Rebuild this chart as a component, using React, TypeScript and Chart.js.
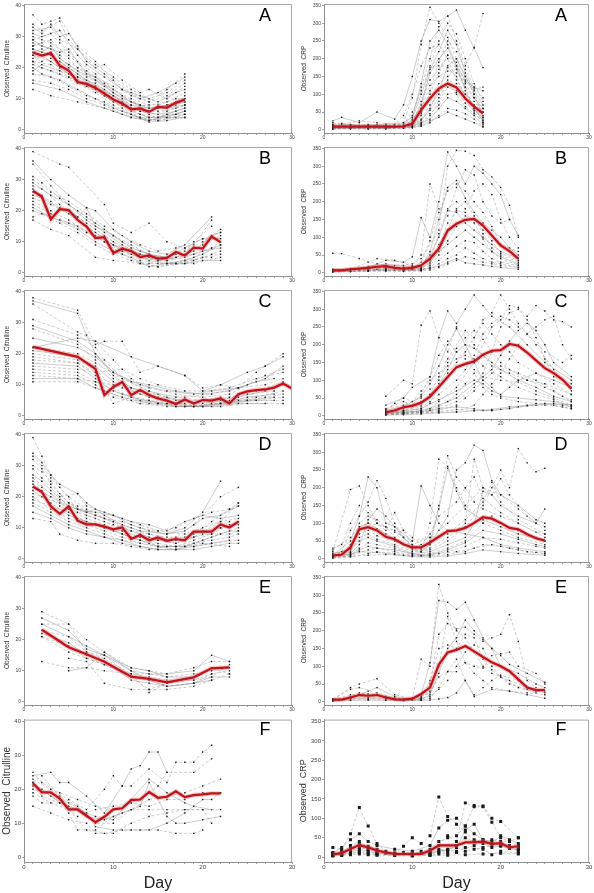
import React, { useEffect, useRef } from 'react';
import { Chart, registerables } from 'chart.js';
Chart.register(...registerables);

// ---------- DATA (flattened [day, value, day, value, ...] per subject) ----------
const citTicks = [0, 10, 20, 30, 40];
const crpTicks = [0, 50, 100, 150, 200, 250, 300, 350];
const dayTicks = [0, 10, 20, 30];

// Panel A – Citrulline
const citA_meanDays = [1,2,3,4,5,6,7,8,9,10,11,12,13,14,15,16,17,18];
const citA_mean = [24.9,23.9,24.7,20.7,19.1,15.4,14.8,13.5,11.7,9.8,8.5,6.6,6.9,5.8,7.4,7.2,8.7,9.8];
const citA_subjects = [
  [1,37, 2,34, 3,35, 4,36, 6,27, 8,22, 10,16, 12,12, 14,9, 16,13, 18,18],
  [1,33, 2,31, 3,34, 4,30, 5,31, 7,22, 9,18, 11,13, 13,10, 15,12, 17,15, 18,17],
  [1,32, 3,33, 4,29, 6,26, 8,20, 9,21, 11,16, 13,12, 14,13, 16,10, 18,14],
  [1,30, 2,29, 3,28, 5,24, 7,19, 9,15, 11,11, 13,8, 15,7, 17,9, 18,11],
  [1,29, 2,27, 4,25, 5,26, 7,18, 8,17, 10,12, 12,9, 14,6, 16,8, 18,10],
  [1,28, 3,26, 4,24, 6,20, 8,16, 10,12, 12,8, 14,5, 16,6, 18,8],
  [1,27, 2,28, 3,25, 5,21, 6,17, 8,15, 10,11, 12,7, 14,6, 15,7, 17,8, 18,9],
  [1,26, 3,24, 5,20, 7,16, 9,13, 11,9, 13,6, 15,5, 17,6, 18,7],
  [1,25, 2,26, 4,22, 6,18, 8,14, 10,10, 12,7, 13,5, 15,4, 17,5, 18,6],
  [1,24, 3,22, 5,18, 7,15, 9,12, 11,8, 13,5, 14,4, 16,5, 18,5],
  [1,23, 2,24, 4,20, 6,16, 8,13, 10,9, 12,6, 14,4, 16,4, 18,4],
  [1,22, 3,21, 5,17, 7,14, 9,11, 11,7, 13,4, 15,3, 17,4, 18,5],
  [1,21, 3,19, 6,15, 8,12, 10,8, 12,5, 14,3, 16,4, 18,6],
  [1,20, 2,18, 4,16, 6,13, 8,10, 10,7, 12,5, 14,2.5, 16,3, 18,4],
  [1,18, 3,17, 5,14, 7,11, 9,9, 11,6, 13,4, 15,3, 18,5],
  [1,16, 3,15, 5,13, 7,10, 9,8, 11,5, 13,4, 15,4, 18,6],
  [1,15, 4,13, 7,9, 10,6, 12,4, 14,3, 16,5, 18,7],
  [1,13, 3,11, 6,9, 9,7, 12,4, 14,3, 17,5, 18,6],
  [1,29, 3,31, 4,28, 5,25, 6,22, 8,18, 10,13, 12,10, 14,8, 16,9, 18,12],
  [1,31, 2,30, 4,32, 6,24, 7,21, 9,17, 11,13, 13,11, 15,9, 17,12, 18,13],
  [1,24, 2,22, 3,23, 5,21, 7,17, 9,14, 11,10, 13,8, 15,8, 17,10, 18,10],
  [1,27, 3,29, 5,23, 6,20, 8,17, 10,14, 12,11, 14,9, 16,11, 18,15],
  [1,19, 2,21, 4,19, 6,17, 8,14, 10,11, 12,8, 14,7, 16,7, 18,8],
  [1,34, 2,32, 4,35, 5,29, 6,26, 8,21, 10,17, 12,13, 14,10, 16,12, 18,16],
  [1,22, 2,20, 4,18, 5,17, 7,14, 9,11, 11,8, 13,6, 15,6, 17,7, 18,8],
  [1,26, 2,25, 3,27, 4,23, 6,19, 8,16, 10,13, 12,9, 14,7, 16,8, 18,9],
];

// Panel A – CRP
const crpA_meanDays = [1,2,3,4,5,6,7,8,9,10,11,12,13,14,15,16,17,18];
const crpA_mean = [9,9,9,9,9,9,9,9,10,17,56,88,116,130,119,88,65,46];
const crpA_subjects = [
  [1,10, 3,8, 5,12, 7,10, 9,20, 10,90, 11,240, 12,345, 13,300, 14,260, 15,200, 16,150, 17,100, 18,60],
  [1,25, 2,35, 4,20, 6,50, 8,30, 9,70, 10,150, 11,250, 12,310, 13,305, 14,320, 15,337, 16,280, 17,230, 18,175],
  [1,5, 3,6, 5,8, 7,6, 9,10, 10,40, 11,120, 12,200, 13,290, 14,320, 15,250, 16,180, 17,232, 18,327],
  [1,8, 2,10, 4,8, 6,9, 8,7, 10,15, 11,60, 12,180, 13,250, 14,300, 15,270, 16,200, 17,130, 18,80],
  [1,12, 3,15, 5,10, 7,12, 9,8, 10,30, 11,100, 12,170, 13,220, 14,280, 15,240, 16,160, 17,110, 18,70],
  [1,3, 3,4, 5,5, 7,4, 9,6, 10,12, 11,40, 12,110, 13,190, 14,250, 15,220, 16,170, 17,120, 18,90],
  [1,15, 2,18, 4,12, 6,14, 8,10, 10,20, 11,80, 12,140, 13,170, 14,210, 15,190, 16,130, 17,90, 18,50],
  [1,6, 3,5, 5,7, 7,5, 9,9, 10,10, 11,25, 12,60, 13,110, 14,180, 15,200, 16,150, 17,100, 18,40],
  [1,9, 3,10, 5,6, 7,8, 9,12, 10,18, 11,50, 12,90, 13,130, 14,150, 15,170, 16,120, 17,60, 18,30],
  [1,4, 3,3, 5,4, 7,3, 9,5, 10,8, 11,15, 12,40, 13,80, 14,120, 15,110, 16,90, 17,70, 18,20],
  [1,7, 3,8, 5,9, 7,7, 9,8, 10,10, 11,20, 12,30, 13,60, 14,90, 15,80, 16,60, 17,40, 18,15],
  [1,20, 2,15, 4,25, 6,20, 8,15, 9,40, 10,100, 11,180, 12,230, 13,240, 14,200, 15,140, 16,100, 17,70, 18,35],
  [1,2, 3,3, 5,2, 7,3, 9,4, 10,5, 11,10, 12,20, 13,40, 14,60, 15,55, 16,45, 17,30, 18,10],
  [1,10, 3,12, 5,14, 7,10, 9,9, 10,22, 11,70, 12,160, 13,200, 14,230, 15,180, 16,110, 17,60, 18,25],
  [1,5, 3,7, 5,6, 7,9, 9,11, 10,14, 11,30, 12,70, 13,100, 14,140, 15,130, 16,100, 17,80, 18,50],
  [1,14, 3,10, 5,15, 7,12, 9,15, 10,50, 11,110, 12,175, 13,180, 14,175, 15,150, 16,90, 17,50, 18,20],
  [1,3, 3,5, 5,3, 7,4, 9,6, 10,7, 11,12, 12,25, 13,35, 14,50, 15,40, 16,30, 17,20, 18,8],
  [1,8, 3,9, 5,11, 7,9, 9,10, 10,16, 11,45, 12,100, 13,160, 14,210, 15,170, 16,120, 17,90, 18,60],
  [1,6, 3,5, 5,8, 7,5, 9,7, 10,9, 11,18, 12,45, 13,70, 14,100, 15,105, 16,75, 17,55, 18,35],
  [1,12, 3,14, 5,10, 7,16, 9,20, 10,35, 11,130, 12,250, 13,280, 14,240, 15,180, 16,140, 17,120, 18,110],
  [1,4, 3,6, 5,5, 7,6, 9,8, 10,12, 11,28, 12,55, 13,90, 14,130, 15,100, 16,65, 17,45, 18,25],
  [1,10, 3,11, 5,12, 7,11, 9,14, 10,26, 11,60, 12,125, 13,150, 14,165, 15,160, 16,135, 17,115, 18,120],
];

// Panel B – Citrulline
const citB_meanDays = [1,2,3,4,5,6,7,8,9,10,11,12,13,14,15,16,17,18,19,20,21,22];
const citB_mean = [26.4,24.5,17.3,20.5,20.2,17,14.9,11.2,11.5,6.4,7.8,7.0,5.1,5.6,4.6,4.8,6.7,5.6,8.1,7.8,11.7,9.9];
const citB_subjects = [
  [1,39, 4,35, 5,34, 9,22, 10,16, 12,13, 14,16, 16,10, 18,8, 20,11, 22,13],
  [1,36, 3,30, 5,25, 7,21, 8,20, 10,14, 12,10, 14,7, 16,6, 18,9, 21,18],
  [1,35, 3,28, 5,22, 7,18, 9,14, 11,10, 13,7, 15,5, 17,6, 19,9, 21,17],
  [1,31, 2,29, 4,24, 6,20, 8,16, 10,12, 12,9, 14,6, 16,5, 18,7, 20,10, 22,14],
  [1,29, 3,25, 5,22, 7,17, 9,13, 11,9, 13,6, 15,4, 17,5, 19,7, 21,12, 22,13],
  [1,28, 2,27, 4,22, 6,18, 8,14, 10,10, 12,7, 14,5, 16,4, 18,6, 20,9, 22,12],
  [1,26, 3,23, 5,20, 7,16, 9,12, 11,8, 13,5, 15,4, 17,3, 19,5, 21,8, 22,10],
  [1,25, 2,24, 4,21, 6,17, 8,13, 10,9, 12,6, 14,4, 16,3, 18,4, 20,6, 22,9],
  [1,24, 3,22, 5,19, 7,15, 9,11, 11,7, 13,4, 15,3, 17,3, 19,4, 21,6, 22,7],
  [1,23, 3,20, 5,17, 7,13, 9,10, 11,6, 13,3, 15,2, 17,3, 19,3, 22,5],
  [1,21, 3,18, 6,14, 8,10, 10,7, 12,5, 14,2, 16,3, 18,3, 20,4, 22,4],
  [1,18, 2,19, 4,16, 6,13, 8,9, 10,6, 12,4, 14,3, 16,3, 18,4, 21,5],
  [1,17, 3,14, 5,12, 8,5, 10,4, 13,3, 15,2, 18,3, 20,5, 22,6],
  [1,27, 2,25, 3,17, 4,21, 5,20, 6,18, 7,21, 8,15, 10,12, 12,8, 14,6, 16,5, 18,8, 20,11, 22,11],
  [1,30, 3,26, 5,23, 7,19, 9,15, 11,12, 13,9, 15,7, 17,8, 19,10, 21,15],
  [1,22, 3,19, 5,16, 7,13, 9,10, 11,7, 13,5, 15,4, 17,5, 19,6, 21,8, 22,9],
  [1,20, 4,17, 6,15, 8,12, 10,9, 12,7, 14,5, 16,4, 18,5, 20,7, 22,8],
];

// Panel B – CRP
const crpB_meanDays = [1,2,3,4,5,6,7,8,9,10,11,12,13,14,15,16,17,18,19,20,21,22];
const crpB_mean = [7,7,10,12,14,17,19,14,12,14,21,40,68,119,138,149,152,133,105,77,61,40];
const crpB_subjects = [
  [1,55, 2,54, 4,40, 6,25, 8,20, 10,25, 11,40, 13,120, 14,300, 15,345, 16,342, 17,330, 18,290, 19,270, 20,240, 21,190, 22,100],
  [1,5, 3,8, 5,15, 7,35, 9,30, 10,45, 11,155, 12,100, 13,200, 14,340, 15,300, 16,250, 17,300, 18,280, 19,250, 20,220, 21,150, 22,105],
  [1,8, 3,10, 5,30, 6,40, 8,35, 10,20, 11,50, 12,250, 13,180, 14,160, 15,240, 16,290, 17,275, 18,200, 19,160, 20,140, 21,150],
  [1,6, 3,8, 5,10, 7,12, 9,15, 10,18, 11,30, 12,90, 13,170, 14,230, 15,250, 16,230, 17,200, 18,170, 19,130, 20,80, 22,60],
  [1,4, 3,5, 5,8, 7,10, 9,8, 10,10, 11,20, 12,50, 13,100, 14,175, 15,170, 16,140, 17,120, 18,100, 19,80, 20,60, 22,40],
  [1,7, 3,9, 5,12, 7,18, 9,10, 11,12, 12,40, 13,80, 14,120, 15,180, 16,200, 17,160, 18,110, 19,70, 20,50, 22,30],
  [1,3, 3,4, 5,5, 7,6, 9,5, 11,8, 12,20, 13,50, 14,90, 15,130, 16,160, 17,150, 18,120, 19,90, 20,55, 22,35],
  [1,10, 3,12, 5,14, 7,15, 9,12, 11,10, 12,30, 13,60, 14,80, 15,100, 16,120, 17,100, 18,80, 19,60, 20,45, 22,25],
  [1,5, 3,6, 5,6, 7,8, 9,6, 11,7, 12,15, 13,35, 14,55, 15,75, 16,90, 17,85, 18,60, 19,40, 20,30, 22,20],
  [1,2, 3,3, 5,4, 7,5, 9,4, 11,5, 12,8, 13,15, 14,25, 15,35, 16,45, 17,40, 18,30, 19,25, 20,20, 22,15],
  [1,8, 3,9, 5,18, 7,25, 9,20, 11,15, 12,60, 13,150, 14,240, 15,260, 16,210, 17,170, 18,140, 19,120, 20,100, 21,70, 22,50],
  [1,6, 4,8, 6,10, 8,8, 10,9, 12,12, 13,25, 14,40, 15,50, 16,70, 17,55, 18,40, 19,30, 20,25, 22,15],
  [1,9, 3,10, 5,12, 7,20, 9,15, 11,18, 12,35, 13,110, 14,180, 15,200, 16,180, 17,230, 18,250, 19,220, 20,150, 21,100, 22,70],
  [1,4, 3,4, 5,6, 7,7, 9,7, 11,8, 13,18, 14,30, 15,40, 16,28, 17,25, 18,22, 19,18, 20,15, 22,10],
  [1,7, 3,8, 5,9, 7,12, 9,10, 11,14, 12,25, 13,70, 14,140, 15,175, 16,170, 17,140, 18,95, 19,60, 20,40, 22,22],
];

// Panel C – Citrulline
const citC_meanDays = [1,6,8,9,10,11,12,13,14,15,16,17,18,19,20,21,22,23,24,25,26,27,28,29,30];
const citC_mean = [22.2,19.0,15.1,6.7,9.3,10.9,6.7,8.3,6.7,5.6,4.9,3.8,5.3,4.0,5.1,4.9,5.6,4.0,7.0,7.9,8.3,8.5,9.1,10.4,8.8];
const citC_subjects = [
  [1,38, 6,34, 8,23, 9,24, 11,24, 13,14, 15,16, 18,13, 20,9, 22,10, 24,9, 26,14, 27,16, 29,20],
  [1,37, 6,33, 7,26, 8,20, 10,14, 13,10, 16,8, 19,7, 21,8, 24,9, 27,12, 29,16],
  [1,36, 6,27, 8,24, 10,18, 12,12, 14,9, 17,7, 20,6, 23,7, 25,10, 27,13, 29,15],
  [1,31, 6,26, 8,22, 9,18, 11,12, 14,8, 17,6, 20,5, 23,6, 26,8, 29,11],
  [1,29, 6,24, 8,20, 10,13, 12,9, 15,6, 18,5, 21,5, 24,6, 27,8, 29,10],
  [1,28, 6,23, 8,18, 10,12, 13,8, 16,6, 19,4, 22,5, 25,7, 28,8],
  [1,22, 6,20, 8,17, 11,12, 14,8, 17,5, 20,4, 23,5, 26,6, 29,8],
  [1,21, 6,19, 8,16, 10,11, 13,7, 16,5, 19,3, 22,4, 25,6, 28,7],
  [1,20, 6,18, 8,15, 10,9, 12,6, 15,4, 18,3, 21,4, 24,5, 27,6, 29,7],
  [1,18, 6,17, 8,13, 11,9, 14,6, 17,4, 20,3, 23,4, 26,5, 29,6],
  [1,17, 6,16, 8,12, 10,8, 13,5, 16,4, 19,3, 22,4, 25,5, 28,6],
  [1,15, 6,14, 8,11, 11,7, 14,5, 17,3, 20,3, 23,4, 26,5, 29,5],
  [1,14, 6,13, 8,10, 10,6, 13,4, 16,3, 19,3, 22,3, 25,4, 29,4],
  [1,12, 6,12, 8,9, 11,6, 14,4, 17,3, 21,3, 24,4, 27,4],
  [1,11, 6,11, 9,8, 12,5, 15,4, 18,3, 22,4, 25,5, 28,5],
  [1,19, 6,17, 8,14, 10,4, 12,6, 14,5, 16,4, 18,4, 20,5, 22,6],
  [1,22, 6,25, 8,24, 12,19, 15,16, 18,13, 20,8, 22,10, 25,14, 27,16, 29,19],
  [1,16, 6,15, 8,14, 11,15, 13,12, 15,10, 18,8, 20,8, 23,9, 26,12, 29,14],
  [1,13, 6,12, 8,11, 10,10, 12,9, 15,7, 18,6, 21,7, 24,9, 27,10, 29,12],
  [1,25, 6,22, 8,19, 10,14, 12,11, 14,10, 17,8, 20,7, 23,8, 26,11, 28,12],
];

// Panel C – CRP
const crpC_meanDays = [7,8,9,10,11,12,13,14,15,16,17,18,19,20,21,22,23,24,25,26,27,28];
const crpC_mean = [10,15,24,28,37,54,81,109,137,146,153,172,183,185,202,197,178,156,134,120,102,76];
const crpC_subjects = [
  [7,55, 9,100, 10,90, 11,255, 12,295, 13,220, 14,180, 15,250, 17,200, 19,140, 21,120, 23,100, 25,90, 28,60],
  [7,30, 9,50, 10,80, 12,110, 13,220, 14,295, 15,260, 16,300, 17,340, 18,310, 19,280, 21,250, 23,200, 25,150, 28,100],
  [7,10, 9,15, 11,30, 12,60, 13,110, 14,160, 16,240, 17,220, 18,270, 19,290, 20,340, 21,300, 22,260, 24,200, 26,130, 28,70],
  [7,5, 9,8, 11,15, 12,20, 13,40, 15,80, 17,150, 19,250, 20,270, 21,310, 22,305, 23,280, 24,310, 25,295, 26,270, 27,265, 28,250],
  [7,15, 9,25, 11,55, 12,90, 13,140, 14,200, 15,245, 16,200, 17,150, 18,100, 19,80, 20,55, 22,50, 24,45, 26,40, 28,30],
  [7,8, 9,12, 11,20, 12,35, 13,80, 14,120, 15,150, 16,180, 17,220, 18,260, 19,230, 20,200, 21,180, 22,150, 24,120, 26,90, 28,60],
  [7,3, 9,5, 11,10, 13,20, 15,40, 17,80, 18,120, 19,180, 20,250, 21,290, 22,300, 23,270, 24,220, 25,160, 26,110, 28,90],
  [7,12, 9,20, 11,40, 12,60, 13,90, 14,130, 15,180, 16,200, 17,190, 18,170, 19,150, 20,130, 22,100, 24,80, 26,55, 28,40],
  [7,6, 9,10, 11,12, 13,25, 14,40, 15,60, 16,90, 17,120, 18,80, 19,60, 20,50, 22,40, 24,35, 26,30, 28,20],
  [7,4, 9,6, 11,8, 13,12, 15,18, 17,15, 19,15, 21,20, 23,28, 25,30, 27,25, 28,20],
  [7,2, 9,3, 11,5, 13,8, 15,10, 17,14, 19,18, 21,25, 23,30, 25,35, 27,30, 28,25],
  [7,20, 9,40, 10,30, 11,60, 12,110, 13,170, 14,210, 15,180, 16,160, 17,130, 18,110, 20,100, 22,95, 24,70, 26,50, 28,30],
  [7,10, 9,15, 11,25, 12,40, 13,60, 15,100, 16,130, 17,170, 18,230, 19,260, 20,280, 21,270, 22,250, 23,230, 25,180, 27,150, 28,170],
  [7,7, 9,9, 11,15, 13,30, 15,50, 17,90, 19,130, 20,170, 21,210, 22,240, 23,260, 24,240, 25,200, 26,150, 28,110],
  [7,5, 9,7, 11,10, 13,15, 15,30, 16,50, 17,70, 18,100, 19,120, 20,140, 22,120, 24,100, 26,70, 28,40],
  [7,14, 8,35, 9,50, 10,40, 11,70, 12,100, 13,120, 14,140, 15,160, 16,170, 17,160, 18,140, 20,110, 22,80, 24,60, 26,45, 28,25],
  [7,8, 9,10, 11,12, 12,15, 13,20, 15,25, 17,20, 18,15, 19,15, 20,18, 22,25, 24,30, 26,35, 28,30],
  [7,4, 9,5, 11,8, 13,10, 15,12, 17,30, 18,60, 19,90, 20,120, 21,160, 22,200, 23,230, 24,250, 25,270, 26,280, 27,200, 28,160],
  [7,18, 9,30, 11,50, 12,75, 13,100, 14,150, 15,190, 16,220, 17,240, 18,215, 19,180, 20,150, 21,130, 23,100, 25,80, 27,55, 28,45],
  [7,9, 9,14, 11,20, 13,45, 15,70, 17,100, 18,90, 19,70, 20,60, 21,80, 22,100, 24,120, 26,100, 28,80],
];

// Panel D – Citrulline
const citD_meanDays = [1,2,3,4,5,6,7,8,9,10,11,12,13,14,15,16,17,18,19,20,21,22,23,24];
const citD_mean = [23.3,21.5,16.9,14.5,16.9,12.3,11.1,11.1,10.4,9.5,10.1,6.4,7.7,6.0,6.9,5.8,6.4,6.0,8.8,8.8,8.8,11.1,10.1,12.0];
const citD_subjects = [
  [1,39, 2,33, 3,27, 4,23, 6,16, 8,14, 10,12, 12,9, 14,7, 17,5, 19,7, 22,12, 24,18],
  [1,34, 2,31, 3,27, 4,24, 6,21, 7,18, 9,14, 11,11, 13,9, 16,8, 18,10, 20,15, 22,25],
  [1,33, 2,30, 3,26, 5,20, 7,16, 9,13, 11,10, 13,8, 15,6, 17,7, 19,11, 22,20, 24,23],
  [1,32, 2,29, 3,24, 5,18, 7,14, 9,12, 11,9, 13,7, 15,6, 17,5, 19,8, 21,12, 23,16, 24,18],
  [1,27, 2,25, 3,22, 5,17, 7,15, 8,16, 10,14, 12,11, 14,9, 16,8, 18,9, 20,13, 22,14, 24,17],
  [1,26, 3,21, 5,16, 7,13, 9,11, 11,8, 13,6, 15,5, 17,4, 19,6, 21,8, 23,11, 24,12],
  [1,24, 2,22, 4,17, 6,13, 8,11, 10,9, 12,7, 14,5, 16,4, 18,4, 20,6, 22,8, 24,10],
  [1,22, 3,18, 5,14, 7,12, 9,10, 11,8, 13,6, 15,4, 17,3, 19,5, 21,7, 23,9, 24,9],
  [1,20, 3,16, 5,13, 7,11, 9,9, 11,7, 13,5, 15,4, 17,4, 19,5, 21,6, 23,7, 24,8],
  [1,18, 3,15, 5,12, 7,10, 9,8, 11,6, 13,5, 15,4, 17,4, 19,4, 21,5, 24,6],
  [1,15, 3,13, 5,10, 7,8, 9,7, 11,5, 13,4, 15,3, 17,3, 19,3, 21,4, 23,5, 24,5],
  [1,13, 3,12, 4,8, 6,6, 8,5, 10,5, 12,4, 14,3, 16,4, 18,4, 20,5, 23,4],
  [1,29, 2,26, 3,23, 4,20, 6,21, 7,17, 9,15, 11,13, 13,11, 15,9, 17,10, 19,13, 21,15, 23,16, 24,17],
  [1,23, 3,20, 5,17, 6,16, 8,15, 10,14, 12,12, 14,11, 16,9, 18,12, 20,14, 22,13, 24,14],
  [1,21, 2,20, 4,18, 6,15, 8,13, 10,11, 12,9, 14,8, 16,7, 18,7, 20,9, 22,10, 24,11],
  [1,19, 3,17, 5,15, 7,12, 9,10, 11,9, 13,7, 15,6, 17,6, 19,7, 21,8, 23,8, 24,9],
  [1,17, 3,14, 5,11, 7,9, 9,7, 11,6, 13,4, 15,3, 17,3, 19,4, 21,5, 23,6],
  [1,30, 2,28, 3,25, 4,21, 5,18, 7,15, 9,13, 11,12, 13,10, 15,9, 18,8, 20,10, 22,12, 24,13],
  [1,25, 2,23, 4,19, 6,17, 8,14, 10,12, 12,10, 14,8, 16,6, 18,6, 20,8, 22,10, 23,12],
];

// Panel D – CRP
const crpD_meanDays = [1,2,3,4,5,6,7,8,9,10,11,12,13,14,15,16,17,18,19,20,21,22,23,24,25];
const crpD_mean = [9,12,32,83,89,80,62,55,41,32,32,46,62,78,80,87,101,117,113,101,87,83,69,58,51];
const crpD_subjects = [
  [1,20, 3,195, 4,205, 5,150, 6,100, 8,80, 10,40, 12,60, 14,100, 16,150, 18,200, 20,180, 22,140, 24,100, 25,90],
  [1,10, 3,50, 4,120, 5,230, 6,200, 7,100, 8,90, 10,50, 11,205, 12,150, 13,100, 14,80, 16,70, 18,60, 20,40, 22,30, 25,20],
  [1,5, 2,20, 3,80, 4,120, 5,160, 6,220, 7,170, 8,100, 9,60, 10,30, 11,20, 12,100, 13,280, 14,260, 15,200, 16,150, 18,100, 20,80, 22,60, 25,40],
  [1,30, 2,40, 3,100, 4,150, 5,130, 6,100, 7,80, 8,130, 9,80, 10,40, 11,30, 12,50, 13,150, 14,290, 15,230, 16,200, 17,160, 18,140, 20,120, 22,100, 25,60],
  [1,8, 2,12, 3,40, 4,90, 5,100, 6,85, 7,70, 8,55, 9,40, 10,25, 11,20, 12,40, 13,80, 14,120, 15,250, 16,270, 17,320, 18,305, 19,220, 20,180, 22,150, 24,110, 25,100],
  [1,12, 3,30, 4,70, 5,80, 6,65, 8,50, 10,30, 11,25, 12,30, 14,60, 16,100, 17,280, 18,200, 19,180, 20,225, 21,180, 22,150, 23,120, 25,80],
  [1,6, 3,20, 4,60, 5,70, 6,55, 8,40, 10,20, 12,25, 14,50, 16,90, 18,150, 19,200, 20,250, 21,200, 22,310, 23,270, 24,245, 25,255],
  [1,15, 3,25, 4,50, 5,60, 6,50, 8,35, 10,15, 12,20, 14,40, 16,60, 17,100, 18,190, 19,180, 20,150, 22,120, 24,100, 25,140],
  [1,4, 3,10, 4,30, 5,45, 6,40, 8,30, 10,12, 12,15, 14,30, 16,50, 18,100, 19,120, 20,100, 22,80, 24,60, 25,50],
  [1,3, 3,8, 5,25, 6,30, 8,20, 10,10, 12,10, 14,20, 16,35, 18,60, 20,55, 22,45, 24,35, 25,30],
  [1,7, 3,15, 4,40, 5,110, 6,140, 7,120, 8,90, 9,60, 10,35, 12,40, 13,140, 14,255, 15,190, 16,140, 18,110, 20,90, 22,70, 25,50],
  [1,10, 3,18, 4,100, 5,120, 6,110, 7,90, 8,75, 10,50, 12,60, 14,70, 16,110, 18,160, 19,215, 20,160, 22,110, 25,70],
  [1,2, 3,5, 5,15, 6,20, 8,15, 10,8, 12,8, 14,12, 16,20, 18,40, 20,35, 22,25, 24,18, 25,15],
  [1,9, 3,12, 4,25, 5,35, 6,30, 8,25, 10,15, 11,10, 12,12, 14,25, 16,45, 18,80, 20,70, 22,55, 24,40, 25,35],
  [1,5, 3,7, 5,10, 7,12, 9,10, 11,8, 13,15, 15,20, 17,30, 19,40, 21,30, 23,20, 25,15],
  [1,25, 3,60, 4,90, 5,100, 7,90, 8,60, 9,80, 10,60, 11,40, 12,70, 13,120, 15,160, 16,200, 17,230, 18,170, 20,130, 22,100, 24,75, 25,70],
  [1,8, 3,12, 4,20, 6,18, 8,12, 10,6, 12,5, 14,8, 16,15, 18,25, 20,20, 22,15, 25,10],
];

// Panel E – Citrulline
const citE_meanDays = [2,5,7,9,12,14,16,19,21,23];
const citE_mean = [23.2,17.6,15.3,12.9,8.1,7.4,6.3,7.9,10.8,11.1];
const citE_subjects = [
  [2,29, 5,25, 7,20, 9,16, 12,11, 14,10, 16,9, 19,11, 21,13, 23,13],
  [2,27, 5,23, 7,17, 9,15, 12,10, 14,9, 16,9, 19,10, 21,15, 23,13],
  [2,25, 5,25, 7,16, 9,14, 12,9, 14,3, 16,6, 19,8, 21,11, 23,9],
  [2,23, 5,21, 7,16, 9,15, 12,8, 14,7, 16,5, 19,6, 21,9, 23,10],
  [2,22, 5,19, 7,15, 9,13, 12,7, 14,6, 16,5, 19,6, 21,8, 23,8],
  [2,21, 5,18, 7,14, 9,12, 12,8, 14,4, 16,4, 19,5, 21,7, 23,9],
  [2,13, 5,11, 7,11, 9,10, 12,9, 14,9, 16,8, 19,9, 21,10, 23,11],
  [2,25, 5,21, 7,18, 9,15, 12,11, 14,10, 16,8, 19,8, 21,11],
  [5,14, 7,13, 9,6, 12,4, 14,4, 16,6, 19,7, 21,9],
  [2,21, 5,16, 7,14, 9,12, 12,9, 14,8, 16,7, 19,7, 21,8, 23,12],
  [5,10, 7,11, 9,16, 12,10, 14,7, 16,5, 19,6, 21,7],
];

// Panel E – CRP
const crpE_meanDays = [1,2,3,4,5,6,7,8,9,10,11,12,13,14,15,16,17,18,19,20,21,22,23,24,25];
const crpE_mean = [6,6,12,19,17,19,12,7,6,9,22,40,105,139,146,157,142,126,111,100,86,63,40,33,33];
const crpE_subjects = [
  [1,5, 3,40, 4,50, 6,65, 8,20, 10,10, 11,120, 12,100, 13,330, 14,250, 15,200, 16,180, 17,140, 18,100, 19,80, 21,60, 23,40, 25,30],
  [1,3, 3,10, 5,30, 6,40, 8,15, 10,8, 11,20, 12,110, 13,285, 14,280, 15,260, 16,280, 17,230, 18,180, 19,150, 20,100, 22,80, 24,50, 25,40],
  [1,8, 3,35, 4,40, 6,25, 8,10, 10,5, 11,10, 12,50, 13,190, 14,220, 15,205, 16,210, 17,190, 18,170, 19,180, 20,190, 21,245, 22,170, 23,60, 24,40],
  [1,4, 3,15, 4,20, 6,20, 8,8, 10,6, 11,8, 12,30, 13,100, 14,240, 15,170, 16,110, 17,100, 18,95, 19,130, 20,135, 21,140, 22,100, 24,80, 25,50],
  [1,6, 3,8, 5,10, 7,8, 9,5, 11,6, 12,20, 13,80, 14,150, 15,180, 16,230, 17,200, 18,175, 19,150, 20,130, 21,105, 23,80, 25,55],
  [1,2, 3,5, 5,6, 7,5, 9,4, 11,5, 12,10, 13,40, 14,85, 15,120, 16,60, 17,20, 18,40, 19,60, 20,75, 22,60, 24,30],
  [1,5, 3,12, 4,25, 6,20, 8,10, 10,8, 11,15, 12,25, 13,70, 14,85, 15,85, 16,110, 17,80, 18,60, 19,40, 21,30, 23,25, 25,20],
  [1,3, 3,4, 5,5, 7,4, 9,3, 11,4, 12,5, 13,8, 14,12, 15,25, 16,60, 17,15, 19,35, 21,30, 23,20, 25,10],
  [1,7, 3,20, 5,22, 7,15, 9,8, 11,12, 12,60, 13,150, 14,160, 15,150, 16,190, 17,180, 18,120, 19,90, 20,70, 22,40, 24,25],
  [1,4, 3,10, 5,12, 7,10, 9,6, 11,8, 12,15, 13,35, 14,60, 15,100, 16,140, 17,160, 18,150, 19,100, 20,70, 21,50, 23,35, 25,25],
];

// Panel F – Citrulline
const citF_meanDays = [1,2,3,4,5,6,7,8,9,10,11,12,13,14,15,16,17,18,19,20,21,22];
const citF_mean = [21.8,19.1,19.1,17.3,14.1,14.1,12.2,10.3,11.9,14.1,14.4,16.8,17.0,19.2,17.5,17.8,19.4,17.7,18.3,18.5,18.8,18.8];
const citF_subjects = [
  [1,25, 2,22, 4,19, 6,17, 8,15, 10,14, 12,16, 13,17, 14,19, 15,21, 16,25, 19,25, 21,29],
  [1,24, 3,25, 4,22, 5,22, 7,18, 9,13, 11,21, 12,26, 13,27, 14,31, 15,31, 16,25],
  [1,23, 3,20, 5,17, 7,14, 9,20, 10,24, 11,21, 12,21, 14,26, 16,22, 17,28, 18,28, 19,28, 20,31, 21,33],
  [1,22, 2,24, 4,18, 6,15, 8,10, 10,10, 12,14, 14,17, 16,18, 18,19, 20,21, 22,23],
  [1,20, 3,19, 5,16, 7,13, 8,9, 10,8, 12,8, 14,8, 16,10, 18,13, 20,17, 21,17, 22,19],
  [1,15, 3,13, 5,11, 7,10, 8,7, 10,7, 12,10, 14,12, 16,13, 18,14, 20,14, 22,14],
  [1,21, 2,18, 4,16, 5,13, 6,8, 8,8, 10,12, 12,14, 14,14, 16,14, 18,14, 20,14, 21,10],
  [1,22, 3,18, 5,15, 7,12, 9,11, 11,13, 13,15, 14,22, 16,12, 17,10, 18,10, 20,11, 22,12],
  [1,19, 3,16, 5,14, 7,8, 9,7, 11,8, 13,8, 15,8, 17,7, 19,7, 20,8],
  [1,18, 2,16, 4,16, 6,12, 8,14, 10,15, 12,16, 14,15, 16,17, 18,17, 20,19, 22,19],
  [2,20, 4,16, 6,14, 8,12, 10,11, 12,17, 14,23, 16,19, 18,16, 19,15, 21,14],
];

// Panel F – CRP
const crpF_meanDays = [1,2,3,4,5,6,7,8,9,10,11,12,13,14,15,16,17,18,19,20,21,22];
const crpF_mean = [7,10,21,31,25,17,12,8,8,8,8,17,30,30,30,38,38,40,34,36,25,28];
const crpF_subjects = [
  [1,25, 2,20, 3,60, 4,128, 5,80, 6,35, 7,15, 8,10, 9,28, 10,50, 11,35, 12,55, 13,155, 14,105, 15,85, 16,65, 17,45, 18,40, 20,30, 22,20],
  [1,10, 2,25, 3,45, 4,60, 5,40, 6,30, 8,20, 10,15, 12,30, 13,75, 14,95, 15,100, 16,80, 17,60, 18,45, 19,35, 20,55, 21,45, 22,35],
  [1,5, 2,10, 3,30, 4,40, 5,25, 6,15, 8,8, 10,8, 12,15, 13,30, 14,55, 15,40, 16,140, 17,130, 18,130, 19,90, 20,50, 21,40, 22,50],
  [1,8, 2,12, 3,20, 4,30, 5,20, 6,12, 8,10, 10,6, 11,15, 12,20, 13,40, 14,50, 15,55, 16,80, 17,133, 18,132, 19,100, 20,92, 22,50],
  [1,4, 2,6, 3,12, 4,20, 5,15, 6,10, 8,6, 10,5, 12,8, 13,15, 14,20, 15,25, 16,70, 17,85, 18,45, 19,40, 20,30, 22,25],
  [1,6, 2,8, 3,10, 4,12, 5,8, 6,6, 8,5, 10,4, 12,5, 13,8, 14,10, 15,12, 16,15, 17,20, 18,25, 19,30, 20,40, 21,30, 22,15],
  [1,3, 2,4, 3,6, 4,8, 5,6, 6,5, 8,4, 10,3, 12,4, 14,5, 16,6, 18,8, 20,10, 22,8],
  [1,9, 2,15, 3,25, 4,35, 5,28, 6,20, 7,12, 8,10, 10,10, 12,12, 14,18, 15,30, 16,50, 17,40, 18,35, 19,25, 20,28, 21,22, 22,18],
  [1,7, 2,5, 3,8, 4,15, 5,12, 6,10, 8,8, 10,10, 12,10, 13,12, 14,15, 16,25, 18,20, 19,6, 20,15, 22,10],
  [1,12, 3,15, 4,25, 5,20, 6,18, 7,10, 9,12, 11,10, 13,20, 15,15, 17,30, 19,45, 21,40, 22,30],
];

// ---------- PANEL LIST ----------
type PanelDef = { row: number; col: number; letter: string; kind: 'cit' | 'crp'; subjects: number[][]; meanDays: number[]; mean: number[] };
const PANELS: PanelDef[] = [
  { row: 0, col: 0, letter: 'A', kind: 'cit', subjects: citA_subjects, meanDays: citA_meanDays, mean: citA_mean },
  { row: 0, col: 1, letter: 'A', kind: 'crp', subjects: crpA_subjects, meanDays: crpA_meanDays, mean: crpA_mean },
  { row: 1, col: 0, letter: 'B', kind: 'cit', subjects: citB_subjects, meanDays: citB_meanDays, mean: citB_mean },
  { row: 1, col: 1, letter: 'B', kind: 'crp', subjects: crpB_subjects, meanDays: crpB_meanDays, mean: crpB_mean },
  { row: 2, col: 0, letter: 'C', kind: 'cit', subjects: citC_subjects, meanDays: citC_meanDays, mean: citC_mean },
  { row: 2, col: 1, letter: 'C', kind: 'crp', subjects: crpC_subjects, meanDays: crpC_meanDays, mean: crpC_mean },
  { row: 3, col: 0, letter: 'D', kind: 'cit', subjects: citD_subjects, meanDays: citD_meanDays, mean: citD_mean },
  { row: 3, col: 1, letter: 'D', kind: 'crp', subjects: crpD_subjects, meanDays: crpD_meanDays, mean: crpD_mean },
  { row: 4, col: 0, letter: 'E', kind: 'cit', subjects: citE_subjects, meanDays: citE_meanDays, mean: citE_mean },
  { row: 4, col: 1, letter: 'E', kind: 'crp', subjects: crpE_subjects, meanDays: crpE_meanDays, mean: crpE_mean },
  { row: 5, col: 0, letter: 'F', kind: 'cit', subjects: citF_subjects, meanDays: citF_meanDays, mean: citF_mean },
  { row: 5, col: 1, letter: 'F', kind: 'crp', subjects: crpF_subjects, meanDays: crpF_meanDays, mean: crpF_mean },
];

const FONT = "'Liberation Sans', Arial, sans-serif";

function geom(row: number, col: number) {
  const isF = row === 5;
  const top = row * 143;
  const height = isF ? 893 - 715 : 143;
  const left = col === 0 ? 0 : 297;
  const width = 297;
  const yW = col === 0 ? 24 : 27;
  return { isF, top, height, left, width, yW, padR: 5, padTop: isF ? 2 : 3, xH: isF ? 31 : 10 };
}

const framePlugin = {
  id: 'frame',
  afterDraw(chart: any) {
    const { ctx, chartArea: a } = chart;
    ctx.save();
    ctx.strokeStyle = '#a8a8a8';
    ctx.lineWidth = 1;
    ctx.beginPath();
    ctx.moveTo(a.left, a.top + 0.5);
    ctx.lineTo(a.right - 0.5, a.top + 0.5);
    ctx.lineTo(a.right - 0.5, a.bottom);
    ctx.stroke();
    ctx.restore();
  },
};

function pairs(flat: number[]) {
  const pts: { x: number; y: number }[] = [];
  for (let i = 0; i < flat.length; i += 2) pts.push({ x: flat[i], y: flat[i + 1] });
  return pts;
}

function Panel({ p }: { p: PanelDef }) {
  const ref = useRef<HTMLCanvasElement | null>(null);
  const g = geom(p.row, p.col);
  useEffect(() => {
    if (!ref.current) return;
    const isCit = p.kind === 'cit';
    const yTicks = isCit ? citTicks : crpTicks;
    let yMin: number, yMax: number;
    if (g.isF) {
      yMin = isCit ? -1.45 : -12.7;
      yMax = isCit ? 40.58 : 355;
    } else {
      yMin = isCit ? -1 : -9;
      yMax = isCit ? 40.5 : 354;
    }
    const meanPts = p.meanDays.map((d, i) => ({ x: d, y: p.mean[i] }));
    const bigDots = g.isF && !isCit;
    const datasets: any[] = [
      { data: meanPts, borderColor: '#c0121b', borderWidth: 2.2, pointRadius: 0, order: 0, tension: 0 },
      { data: meanPts, borderColor: 'rgba(235,110,110,0.4)', borderWidth: 4.5, pointRadius: 0, order: 1, tension: 0 },
      ...p.subjects.map((s, i) => ({
        data: pairs(s),
        borderColor: 'rgba(120,120,120,0.75)',
        borderWidth: 0.5,
        borderDash: i % 3 === 1 ? [] : [3, 2],
        pointStyle: 'rect',
        pointRadius: bigDots ? 2.1 : 1.0,
        pointBackgroundColor: '#1a1a1a',
        pointBorderWidth: 0,
        order: 2,
        tension: 0,
      })),
    ];
    const tickFont = { family: FONT, size: g.isF ? 6 : 5 };
    const chart = new Chart(ref.current, {
      type: 'line',
      data: { datasets },
      plugins: [framePlugin],
      options: {
        animation: false,
        responsive: false,
        events: [],
        layout: { padding: { top: g.padTop, right: g.padR, left: 0, bottom: 0 } },
        plugins: { legend: { display: false }, tooltip: { enabled: false }, title: { display: false } },
        scales: {
          x: {
            type: 'linear',
            min: 0,
            max: 30,
            afterBuildTicks: (s: any) => {
              const t: any[] = [];
              for (let v = 0; v <= 30; v++) t.push({ value: v });
              s.ticks = t;
            },
            afterFit: (s: any) => { s.height = g.xH; },
            ticks: {
              autoSkip: false,
              maxRotation: 0,
              padding: 0,
              color: '#444',
              font: tickFont,
              callback: (v: any) => (dayTicks.includes(Number(v)) ? String(v) : ''),
            },
            grid: { drawOnChartArea: false, tickLength: 2, color: '#a0a0a0' },
            border: { color: '#909090' },
            title: {
              display: g.isF,
              text: 'Day',
              color: '#222',
              font: { family: "'Liberation Sans Narrow', 'Liberation Sans', sans-serif", size: 16 },
              padding: { top: 0, bottom: 0 },
            },
          },
          y: {
            type: 'linear',
            min: yMin,
            max: yMax,
            afterBuildTicks: (s: any) => { s.ticks = yTicks.map((v) => ({ value: v })); },
            afterFit: (s: any) => { s.width = g.yW; },
            ticks: { padding: 1, color: '#444', font: tickFont, callback: (v: any) => String(v) },
            grid: { drawOnChartArea: false, tickLength: 2, color: '#a0a0a0' },
            border: { color: '#909090' },
            title: {
              display: true,
              text: isCit ? 'Observed  Citrulline' : 'Observed  CRP',
              color: '#333',
              font: { family: FONT, size: g.isF ? (isCit ? 10 : 9) : 6.5 },
              padding: { top: g.isF ? (isCit ? 1 : 1.6) : 3, bottom: 0 },
            },
          },
        },
      } as any,
    });
    return () => chart.destroy();
  }, []);
  const letterX = p.col === 0 ? 265 : 561;
  const letterY = g.isF ? 729 : g.top + 15;
  return (
    <>
      <canvas
        ref={ref}
        width={g.width}
        height={g.height}
        style={{ position: 'absolute', left: g.left, top: g.top, width: g.width, height: g.height }}
      />
      <div
        style={{
          position: 'absolute',
          left: letterX,
          top: letterY,
          transform: 'translate(-50%, -50%)',
          fontFamily: FONT,
          fontSize: 18,
          lineHeight: 1,
          color: '#000',
        }}
      >
        {p.letter}
      </div>
    </>
  );
}

export default function App() {
  return (
    <div style={{ position: 'absolute', left: 0, top: 0, width: 594, height: 893, background: '#fff', overflow: 'hidden' }}>
      {PANELS.map((p, i) => (
        <Panel key={i} p={p} />
      ))}
    </div>
  );
}
